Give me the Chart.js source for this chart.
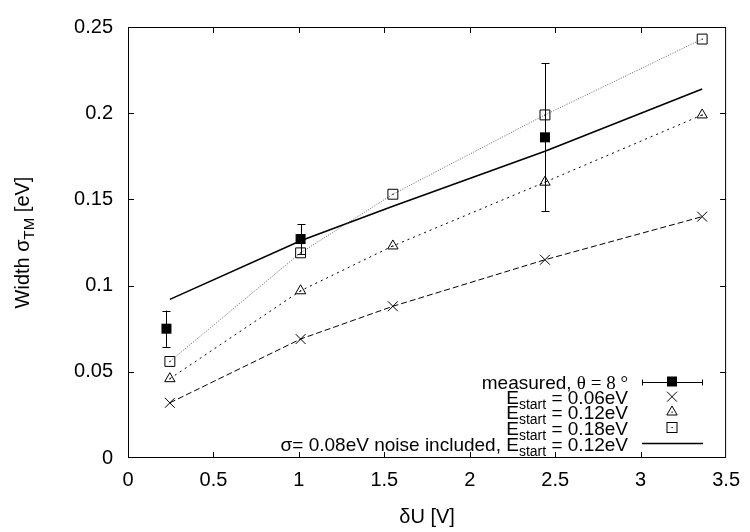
<!DOCTYPE html>
<html>
<head>
<meta charset="utf-8">
<title>Width vs dU</title>
<script src="https://cdn.jsdelivr.net/npm/chart.js@4.4.1/dist/chart.umd.min.js"></script>
<style>
  html, body { margin: 0; padding: 0; background: #fff; }
  #wrap { width: 750px; height: 532px; }
</style>
</head>
<body>
<div id="wrap"><canvas id="chart" width="750" height="532"></canvas></div>
<script>
'use strict';

// ── Data ──────────────────────────────────────────────────────
const measX   = [0.225, 1.01, 2.44];
const measY   = [0.075, 0.127, 0.186];
const measErr = [0.0105, 0.0085, 0.043];

const simX    = [0.245, 1.01, 1.55, 2.44, 3.36];
const e006    = [0.032, 0.069, 0.088, 0.115, 0.140];
const e012    = [0.046, 0.097, 0.123, 0.160, 0.199];
const e018    = [0.056, 0.119, 0.153, 0.199, 0.243];
const noise12 = [0.092, 0.126, 0.146, 0.178, 0.214];

const xTicks = [0, 0.5, 1, 1.5, 2, 2.5, 3, 3.5];
const yTicks = [0, 0.05, 0.1, 0.15, 0.2, 0.25];

const SANS  = "'Liberation Sans', Arial, Helvetica, sans-serif";
const SERIF = "'Liberation Serif', 'DejaVu Serif', serif";
const pts = (xs, ys) => xs.map((x, i) => ({ x, y: ys[i] }));

// ── Helpers ───────────────────────────────────────────────────
// draw a run of text pieces (normal / subscript)
function runWidth(ctx, parts) {
  let w = 0;
  parts.forEach(p => { ctx.font = p.font; w += ctx.measureText(p.t).width; });
  return w;
}
function drawRun(ctx, parts, x, y) {
  let cx = x;
  parts.forEach(p => {
    ctx.font = p.font;
    ctx.fillText(p.t, cx, y + (p.dy || 0));
    cx += ctx.measureText(p.t).width;
  });
}
const N   = '19px ' + SANS;
const SUB = '14px ' + SANS;
const SYM = '19px ' + SERIF;
const TT  = '20px ' + SANS;
const TTS = '15px ' + SANS;

function drawMarker(ctx, kind, x, y) {
  ctx.save();
  ctx.strokeStyle = '#000';
  ctx.fillStyle = '#000';
  ctx.lineWidth = 1;
  ctx.setLineDash([]);
  if (kind === 'fill') {
    ctx.fillRect(x - 5, y - 5, 10, 10);
  } else if (kind === 'cross') {
    ctx.beginPath();
    ctx.moveTo(x - 5, y - 5); ctx.lineTo(x + 5, y + 5);
    ctx.moveTo(x + 5, y - 5); ctx.lineTo(x - 5, y + 5);
    ctx.stroke();
  } else if (kind === 'tri') {
    ctx.beginPath();
    ctx.moveTo(x, y - 6); ctx.lineTo(x + 5.2, y + 3); ctx.lineTo(x - 5.2, y + 3);
    ctx.closePath(); ctx.stroke();
    ctx.fillRect(x - 0.5, y - 0.5, 1.2, 1.2);
  } else if (kind === 'box') {
    ctx.strokeRect(x - 5, y - 5, 10, 10);
    ctx.fillRect(x - 0.5, y - 0.5, 1.2, 1.2);
  }
  ctx.restore();
}

// ── Frame, inward ticks, error bars, legend, titles ───────────
const gnuplotLook = {
  id: 'gnuplotLook',
  afterDatasetsDraw(chart) {
    const { ctx, chartArea: a, scales } = chart;
    const sx = scales.x, sy = scales.y;
    ctx.save();
    ctx.strokeStyle = '#000';
    ctx.lineWidth = 1;
    ctx.setLineDash([]);

    // frame
    ctx.strokeRect(a.left + 0.5, a.top + 0.5, a.right - a.left - 1, a.bottom - a.top - 1);

    // inward ticks on all four sides
    const T = 6;
    ctx.beginPath();
    xTicks.slice(1, -1).forEach(v => {
      const px = Math.round(sx.getPixelForValue(v)) + 0.5;
      ctx.moveTo(px, a.bottom); ctx.lineTo(px, a.bottom - T);
      ctx.moveTo(px, a.top);    ctx.lineTo(px, a.top + T);
    });
    yTicks.slice(1, -1).forEach(v => {
      const py = Math.round(sy.getPixelForValue(v)) + 0.5;
      ctx.moveTo(a.left, py);  ctx.lineTo(a.left + T, py);
      ctx.moveTo(a.right, py); ctx.lineTo(a.right - T, py);
    });
    ctx.stroke();

    // error bars on measured points
    ctx.beginPath();
    measX.forEach((x, i) => {
      const px = Math.round(sx.getPixelForValue(x)) + 0.5;
      const y1 = sy.getPixelForValue(measY[i] + measErr[i]);
      const y2 = sy.getPixelForValue(measY[i] - measErr[i]);
      ctx.moveTo(px, y1); ctx.lineTo(px, y2);
      ctx.moveTo(px - 4, Math.round(y1) + 0.5); ctx.lineTo(px + 4, Math.round(y1) + 0.5);
      ctx.moveTo(px - 4, Math.round(y2) + 0.5); ctx.lineTo(px + 4, Math.round(y2) + 0.5);
    });
    ctx.stroke();
    measX.forEach((x, i) => drawMarker(ctx, 'fill', sx.getPixelForValue(x), sy.getPixelForValue(measY[i])));

    // centre dots on hollow markers
    simX.forEach((x, i) => {
      const px = sx.getPixelForValue(x);
      ctx.fillRect(px - 0.5, sy.getPixelForValue(e012[i]) - 0.5, 1.2, 1.2);
      ctx.fillRect(px - 0.5, sy.getPixelForValue(e018[i]) - 0.5, 1.2, 1.2);
    });

    // legend
    ctx.fillStyle = '#000';
    ctx.textBaseline = 'alphabetic';
    const right = 628, s0 = 642, s1 = 703, sc = 672;
    const E = (val) => [
      { t: 'E', font: N }, { t: 'start', font: SUB, dy: 5 }, { t: ' = ' + val, font: N }
    ];
    const rows = [
      { y: 381.5, kind: 'meas', parts: [{ t: 'measured, ', font: N }, { t: '\u03B8 = 8 \u00B0', font: SYM }] },
      { y: 396.7, kind: 'cross', parts: E('0.06eV') },
      { y: 412.0, kind: 'tri',   parts: E('0.12eV') },
      { y: 427.5, kind: 'box',   parts: E('0.18eV') },
      { y: 443.5, kind: 'line',  parts: [{ t: '\u03C3= 0.08eV noise included, ', font: N }].concat(E('0.12eV')) }
    ];
    rows.forEach(r => {
      const w = runWidth(ctx, r.parts);
      drawRun(ctx, r.parts, right - w, r.y + 7);
      const yy = Math.round(r.y) + 0.5;
      if (r.kind === 'meas') {
        ctx.beginPath();
        ctx.moveTo(s0, yy); ctx.lineTo(s1, yy);
        ctx.moveTo(s0 + 0.5, yy - 3); ctx.lineTo(s0 + 0.5, yy + 3);
        ctx.moveTo(s1 - 0.5, yy - 3); ctx.lineTo(s1 - 0.5, yy + 3);
        ctx.stroke();
        drawMarker(ctx, 'fill', sc, r.y);
      } else if (r.kind === 'line') {
        ctx.save();
        ctx.lineWidth = 1.5;
        ctx.beginPath(); ctx.moveTo(s0, r.y); ctx.lineTo(s1, r.y); ctx.stroke();
        ctx.restore();
      } else {
        drawMarker(ctx, r.kind, sc, r.y);
      }
    });

    // x title
    const xt = [{ t: '\u03B4U [V]', font: TT }];
    drawRun(ctx, xt, (a.left + a.right) / 2 - runWidth(ctx, xt) / 2, 523);

    // y title (rotated)
    const yt = [
      { t: 'Width \u03C3', font: TT }, { t: 'TM', font: TTS, dy: 5 }, { t: ' [eV]', font: TT }
    ];
    ctx.translate(29, (a.top + a.bottom) / 2);
    ctx.rotate(-Math.PI / 2);
    drawRun(ctx, yt, -runWidth(ctx, yt) / 2, 0);
    ctx.restore();
  }
};

// ── Chart ─────────────────────────────────────────────────────
const lineDs = (data, dash, color, style, radius) => ({
  data,
  showLine: true,
  borderColor: color,
  borderWidth: 1,
  borderDash: dash,
  pointStyle: style,
  pointRadius: radius,
  pointBorderColor: '#000',
  pointBackgroundColor: 'rgba(0,0,0,0)',
  pointBorderWidth: 1,
  tension: 0
});

new Chart(document.getElementById('chart'), {
  type: 'scatter',
  data: {
    datasets: [
      lineDs(pts(simX, e006), [6, 3], '#000', 'crossRot', 7),
      lineDs(pts(simX, e012), [2, 4], '#000', 'triangle', 6),
      lineDs(pts(simX, e018), [1, 1.5], '#666', 'rect', 7),
      Object.assign(lineDs(pts(simX, noise12), [], '#000', 'circle', 0), { borderWidth: 1.6 })
    ]
  },
  options: {
    responsive: false,
    animation: false,
    devicePixelRatio: 1,
    layout: { padding: { left: 0, right: 19, top: 13, bottom: 0 } },
    plugins: { legend: { display: false }, tooltip: { enabled: false } },
    scales: {
      x: {
        type: 'linear', min: 0, max: 3.5,
        afterBuildTicks: s => { s.ticks = xTicks.map(v => ({ value: v })); },
        afterFit: s => { s.height = 74; },
        grid: { display: false, drawTicks: false },
        border: { display: false },
        ticks: { color: '#000', padding: 10, font: { family: SANS, size: 20 }, maxRotation: 0,
                 callback: v => String(+v.toFixed(2)) }
      },
      y: {
        type: 'linear', min: 0, max: 0.25,
        afterBuildTicks: s => { s.ticks = yTicks.map(v => ({ value: v })); },
        afterFit: s => { s.width = 128; },
        grid: { display: false, drawTicks: false },
        border: { display: false },
        ticks: { color: '#000', padding: 15, font: { family: SANS, size: 20 },
                 callback: v => String(+v.toFixed(2)) }
      }
    }
  },
  plugins: [gnuplotLook]
});
</script>
</body>
</html>
